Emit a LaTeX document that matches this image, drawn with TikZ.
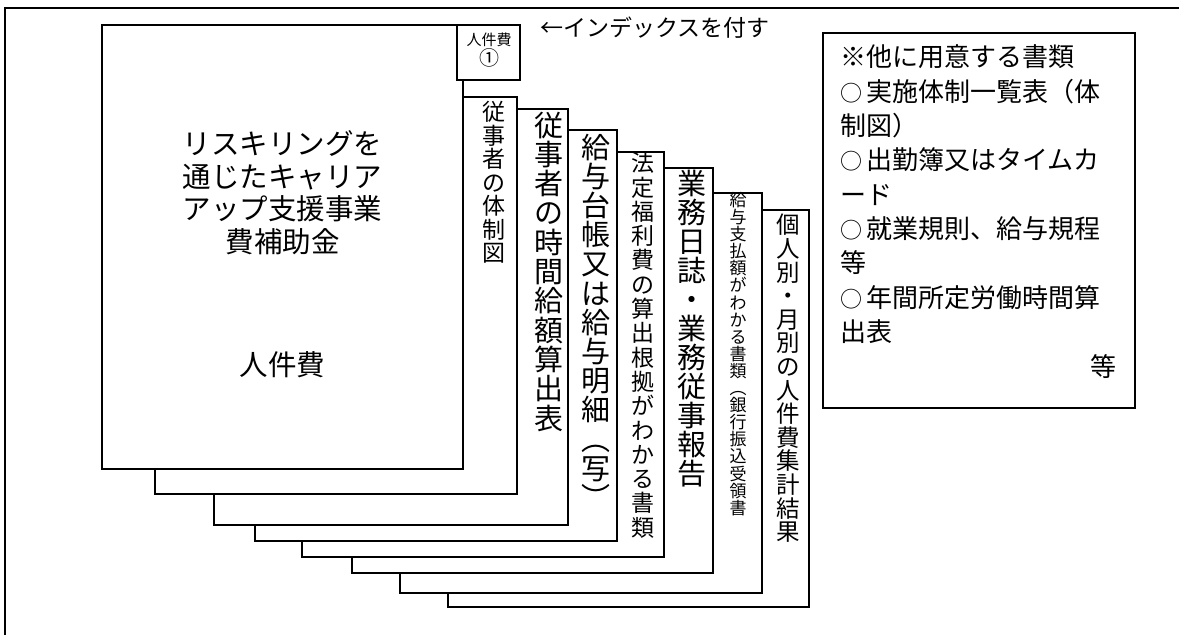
\documentclass[tikz,border=0pt]{standalone}
\usepackage{fontspec}
\setmainfont{Noto Sans CJK JP}
\newcommand\fs[1]{\fontsize{#1}{#1}\selectfont}
\newcommand\maru{{\fontsize{22}{22}\selectfont ○}\hspace{4pt}}
% #1 name prefix, #2 x, #3 y centre of first char, #4 pitch, #5 size, #6 chars
\newcommand\vcol[6]{%
  \foreach \c [count=\i from 0] in {#6} {%
    \node[txt, font=\fs{#5}, anchor=base] (#1\i) at (#2, #3 + \i*#4 + 0.38*#5) {\c};
  }%
}
\begin{document}
\begin{tikzpicture}[x=1pt,y=-1pt,
  page/.style={draw=black, line width=1.8pt, fill=white},
  frame/.style={draw=black, line width=2.2pt},
  txt/.style={inner sep=0pt, text=black}]
\useasboundingbox (0,0) rectangle (1179,635);
% outer frame (only top and left visible)
\draw[frame] (5,640) -- (5,8) -- (1185,8);

% pages, back to front
\draw[page] (448,210) rectangle (809,607);
\draw[page] (400,193) rectangle (762,593);
\draw[page] (352,168) rectangle (713,573);
\draw[page] (302,152) rectangle (664,557);
\draw[page] (255,130) rectangle (617,541);
\draw[page] (214,109) rectangle (568,525);
\draw[page] (155,97) rectangle (517,494);
\draw[page] (102,25) rectangle (463,469);
% index tab
\draw[page] (457,25) rectangle (520,80);
\node[txt, font=\fs{15}, anchor=base] (tab1) at (489,45.7) {人件費};
\node[txt, font=\fs{20}, anchor=base] (tab2) at (489,65.6) {①};
\node[txt, font=\fs{23}, anchor=base west] (idx) at (540,36.7) {←インデックスを付す};

% main document text
\foreach \t [count=\i from 0] in {リスキリングを,通じたキャリア,アップ支援事業,費補助金}
  \node[txt, font=\fs{28.5}, anchor=base] (m\i) at (282.5, 144+\i*32.5+10.8) {\t};
\node[txt, font=\fs{28.5}, anchor=base] (jinkenhi) at (282.5, 375.8) {人件費};

% vertical columns
\vcol{a}{494}{112}{23.5}{23}{従,事,者,の,体,制,図}
\vcol{b}{549}{125}{29.3}{29}{従,事,者,の,時,間,給,額,算,出,表}
\vcol{c}{596}{147}{29.2}{29}{給,与,台,帳,又,は,給,与,明,細,︵,写,︶}
\vcol{d}{643}{163}{24.3}{23}{法,定,福,利,費,の,算,出,根,拠,が,わ,か,る,書,類}
\vcol{e}{692}{183}{29}{29}{業,務,日,誌,・,業,務,従,事,報,告}
\vcol{f}{738}{200}{17.1}{17}{給,与,支,払,額,が,わ,か,る,書,類,︵,銀,行,振,込,受,領,書}
\vcol{g}{788}{225}{23.6}{23.5}{個,人,別,・,月,別,の,人,件,費,集,計,結,果}

% right box
\draw[page] (823,33) rectangle (1135,408);
\foreach \t [count=\i from 0] in {※他に用意する書類,\maru 実施体制一覧表（体,制図）,\maru 出勤簿又はタイムカ,ード,\maru 就業規則、給与規程,等,\maru 年間所定労働時間算,出表}
  \node[txt, font=\fs{26}, anchor=base west] (r\i) at (840, 57+\i*34.3+9.9) {\t};
\node[txt, font=\fs{26}, anchor=base east] (rend) at (1117, 376.9) {等};
\end{tikzpicture}
\end{document}
